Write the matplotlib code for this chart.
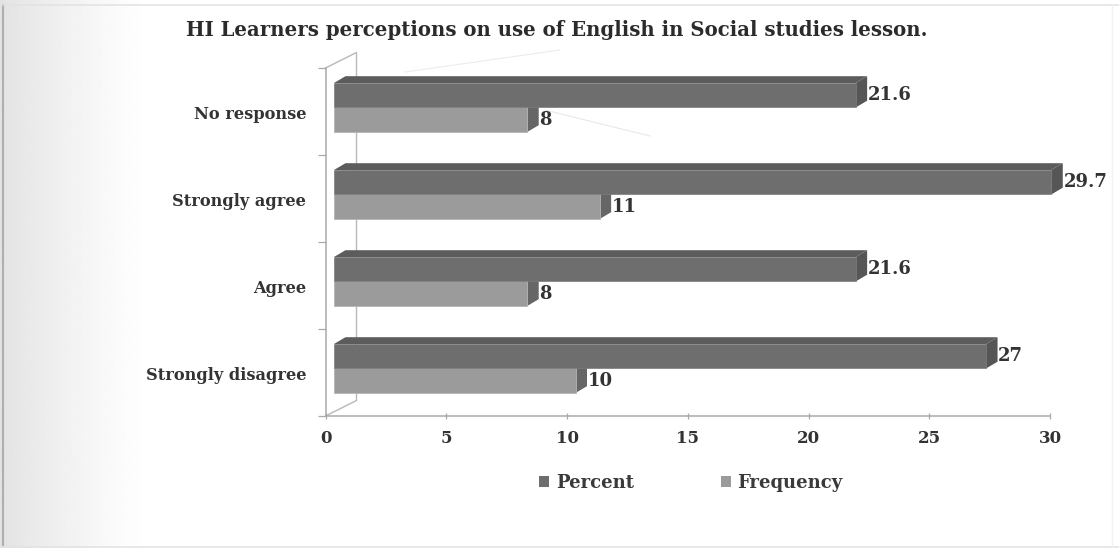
import numpy as np
import matplotlib
matplotlib.use("Agg")
import matplotlib.pyplot as plt
from matplotlib.patches import Patch, Polygon

# Survey results, bottom category first
categories = ["Strongly disagree", "Agree", "Strongly agree", "No response"]
percent = [27, 21.6, 29.7, 21.6]
frequency = [10, 8, 11, 8]
x_ticks = [0, 5, 10, 15, 20, 25, 30]
title_text = "HI Learners perceptions on use of English in Social studies lesson."

W, H = 1119, 548
plt.rcParams["font.family"] = ["DejaVu Serif"]
plt.rcParams["font.weight"] = "bold"

fig = plt.figure(figsize=(W / 100, H / 100), dpi=100, facecolor="white")

# Page shading that fades out towards the right
bg = fig.add_axes([0, 0, 1, 1], zorder=0)
shade = np.clip(1 - np.arange(0, 150) / 150, 0, 1) ** 1.2
bg.imshow(1 - 0.11 * shade[None, :], extent=(0, 150, H, 0), cmap="gray",
          vmin=0, vmax=1, aspect="auto", interpolation="bilinear")
bg.set_xlim(0, W)
bg.set_ylim(H, 0)
bg.axis("off")
bg.plot([3, 3], [5, 545], color="#b0b0b0", lw=1.5)
bg.plot([3, W], [5, 5], color="#e2e2e2", lw=1.1)
bg.plot([3, W], [546.5, 546.5], color="#e2e2e2", lw=1.1)
bg.plot([1112, 1112], [5, 546], color="#f2f2f2", lw=1.0)
bg.plot([405, 560], [72, 50], color="#ececec", lw=0.8)
bg.plot([545, 650], [110, 136], color="#e8e8e8", lw=0.8)

# Plot area
left, right, top, bottom = 325.5, 1050, 68, 416
ax = fig.add_axes([left / W, 1 - bottom / H, (right - left) / W, (bottom - top) / H], zorder=1)
ax.patch.set_alpha(0)
ax.set_xlim(0, 30)
ax.set_ylim(0, len(categories))

unit_x = (right - left) / 30
unit_y = (bottom - top) / len(categories)
base = 8.5 / unit_x          # gap between the axis and the bar fronts
depth_x = 11.5 / unit_x      # extrusion of the bars
depth_y = 6.8 / unit_y
bar_h = 24.5 / unit_y
centre_shift = 0.046

line_c = "#a9a9a9"
text_c = "#333333"
C_DARK, C_DARK_TOP, C_DARK_SIDE = "#6e6e6e", "#5c5c5c", "#565656"
C_LIGHT, C_LIGHT_SIDE = "#9b9b9b", "#666666"

# Back wall of the 3-D box
wall_x, wall_y = 31 / unit_x, 15.5 / unit_y
n = len(categories)
ax.plot([0, wall_x, wall_x, 0], [n, n + wall_y, wall_y, 0], color="#b8b8b8",
        lw=1.0, clip_on=False, zorder=1)

ys = np.arange(n) + 0.5 + centre_shift


def extrude(y0, values, side_c, top_c=None, z=3):
    # Side face (and optional top face) of each horizontal bar
    for y, v in zip(y0, values):
        end = base + v
        ax.add_patch(Polygon([(end, y), (end + depth_x, y + depth_y),
                              (end + depth_x, y + bar_h + depth_y), (end, y + bar_h)],
                             fc=side_c, ec="none", clip_on=False, zorder=z))
        if top_c:
            ax.add_patch(Polygon([(base, y + bar_h), (base + depth_x, y + bar_h + depth_y),
                                  (end + depth_x, y + bar_h + depth_y), (end, y + bar_h)],
                                 fc=top_c, ec="none", clip_on=False, zorder=z))


extrude(ys - bar_h, frequency, C_LIGHT_SIDE, z=2)
ax.barh(ys - bar_h / 2, frequency, height=bar_h, left=base, color=C_LIGHT,
        edgecolor="#b5b5b5", linewidth=0.6, zorder=3, clip_on=False)
extrude(ys, percent, C_DARK_SIDE, C_DARK_TOP, z=4)
ax.barh(ys + bar_h / 2, percent, height=bar_h, left=base, color=C_DARK,
        edgecolor="#7c7c7c", linewidth=0.5, zorder=5, clip_on=False)

# Value labels beside each bar end
label_kw = dict(va="center", ha="left", fontsize=13, color=text_c, zorder=6, clip_on=False)
for y, p, f in zip(ys, percent, frequency):
    ax.text(base + p + depth_x + 0.03, y + bar_h * 0.5, f"{p:g}", **label_kw)
    ax.text(base + f + depth_x + 0.03, y - bar_h * 0.5, f"{f:g}", **label_kw)

ax.set_xticks(x_ticks)
ax.set_xticklabels([f"{t}" for t in x_ticks], fontsize=12, color=text_c)
ax.set_yticks(np.arange(n + 1))
ax.set_yticklabels([])
ax.tick_params(axis="x", length=4, width=0.9, color=line_c, direction="inout", pad=8)
ax.tick_params(axis="y", length=6, width=0.9, color=line_c, direction="out")
for s in ("top", "right"):
    ax.spines[s].set_visible(False)
for s in ("left", "bottom"):
    ax.spines[s].set_color(line_c)
    ax.spines[s].set_linewidth(1.1)

# Category names, right aligned against the axis
for i, name in enumerate(categories):
    ax.text(-0.8, i + 0.47, name, ha="right", va="center", fontsize=11.7, color=text_c)

fig.text(557 / W, 1 - 30 / H, title_text, ha="center", va="center", fontsize=14.2, color="#2b2b2b")

handles = [Patch(fc=C_DARK, ec="none"), Patch(fc=C_LIGHT, ec="none")]
fig.legend(handles, ["Percent", "Frequency"], loc="center", bbox_to_anchor=(691 / W, 1 - 483 / H),
           ncol=2, frameon=False, fontsize=13, handlelength=0.55, handleheight=0.55,
           handletextpad=0.38, columnspacing=4.8, labelcolor="#3a3a3a",
           borderpad=0, borderaxespad=0)

fig.savefig("out.png", dpi=100)
